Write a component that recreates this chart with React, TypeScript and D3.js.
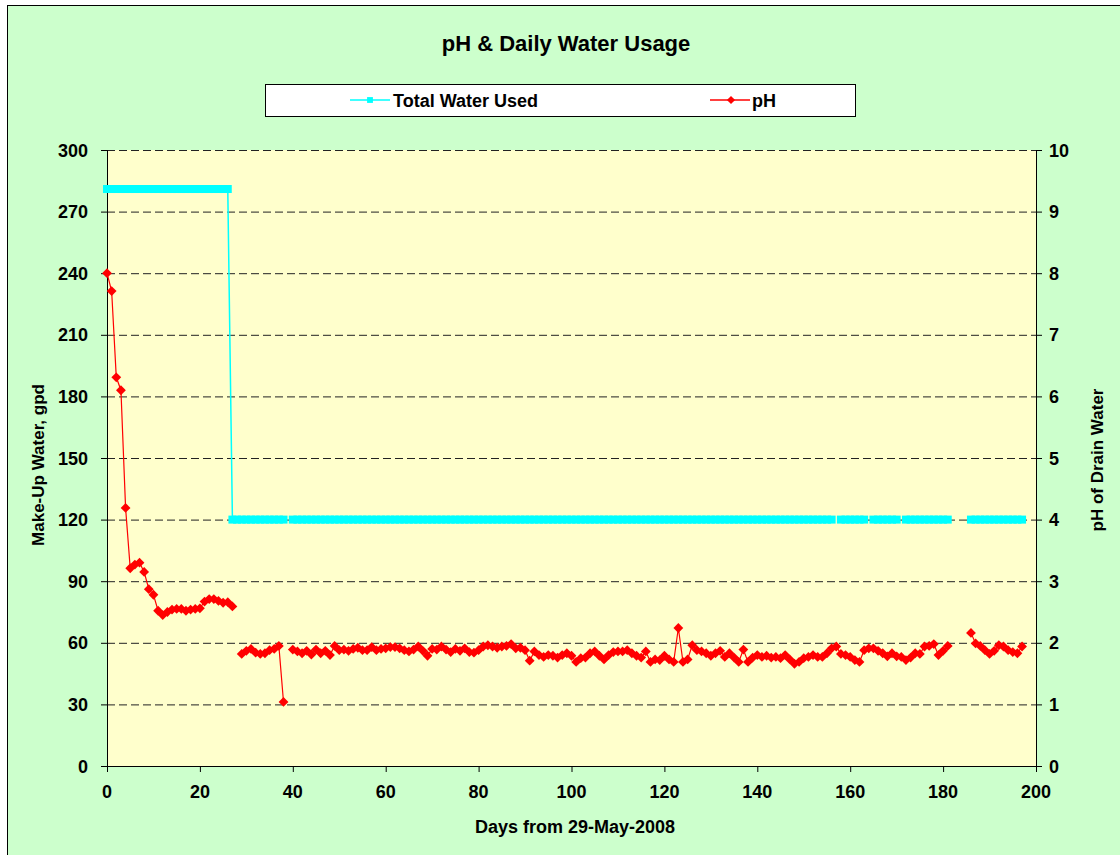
import React from 'react';
import * as d3 from 'd3';

// day index 0..197 (days from 29-May-2008)
const days: number[] = d3.range(0, 198);

// Total water used, gpd (null = no reading)
const water: (number | null)[] = [
  281, 281, 281, 281, 281, 281, 281, 281, 281, 281, 281, 281, 281, 281, 281, 281, 281, 281, 281, 281,
  281, 281, 281, 281, 281, 281, 281, 120, 120, 120, 120, 120, 120, 120, 120, 120, 120, 120, 120, null,
  120, 120, 120, 120, 120, 120, 120, 120, 120, 120, 120, 120, 120, 120, 120, 120, 120, 120, 120, 120,
  120, 120, 120, 120, 120, 120, 120, 120, 120, 120, 120, 120, 120, 120, 120, 120, 120, 120, 120, 120,
  120, 120, 120, 120, 120, 120, 120, 120, 120, 120, 120, 120, 120, 120, 120, 120, 120, 120, 120, 120,
  120, 120, 120, 120, 120, 120, 120, 120, 120, 120, 120, 120, 120, 120, 120, 120, 120, 120, 120, 120,
  120, 120, 120, 120, 120, 120, 120, 120, 120, 120, 120, 120, 120, 120, 120, 120, 120, 120, 120, 120,
  120, 120, 120, 120, 120, 120, 120, 120, 120, 120, 120, 120, 120, 120, 120, 120, 120, null, 120, 120,
  120, 120, 120, 120, null, 120, 120, 120, 120, 120, 120, null, 120, 120, 120, 120, 120, 120, 120, 120,
  120, 120, null, null, null, null, 120, 120, 120, 120, 120, 120, 120, 120, 120, 120, 120, 120,
];

// pH of drain water
const ph: (number | null)[] = [
  8.0, 7.71, 6.31, 6.1, 4.19, 3.21, 3.27, 3.3, 3.15, 2.87, 2.78, 2.52, 2.45, 2.5, 2.54, 2.55, 2.55, 2.52, 2.54, 2.55,
  2.56, 2.67, 2.71, 2.71, 2.68, 2.65, 2.66, 2.59, null, 1.82, 1.87, 1.9, 1.84, 1.82, 1.83, 1.88, 1.9, 1.95, 1.04, null,
  1.89, 1.86, 1.83, 1.87, 1.81, 1.89, 1.83, 1.87, 1.8, 1.95, 1.88, 1.89, 1.87, 1.9, 1.92, 1.88, 1.88, 1.93, 1.88, 1.9,
  1.91, 1.93, 1.93, 1.91, 1.88, 1.86, 1.89, 1.94, 1.87, 1.79, 1.9, 1.89, 1.94, 1.89, 1.85, 1.9, 1.87, 1.91, 1.85, 1.84,
  1.88, 1.94, 1.96, 1.94, 1.92, 1.94, 1.95, 1.98, 1.91, 1.92, 1.88, 1.71, 1.86, 1.8, 1.77, 1.8, 1.79, 1.76, 1.8, 1.83,
  1.79, 1.69, 1.75, 1.76, 1.83, 1.86, 1.79, 1.73, 1.8, 1.85, 1.86, 1.86, 1.88, 1.83, 1.79, 1.76, 1.86, 1.69, 1.73, 1.72,
  1.79, 1.73, 1.69, 2.24, 1.69, 1.73, 1.96, 1.88, 1.86, 1.83, 1.79, 1.83, 1.87, 1.77, 1.83, 1.76, 1.69, 1.89, 1.69, 1.76,
  1.8, 1.77, 1.79, 1.76, 1.77, 1.75, 1.8, 1.73, 1.66, 1.69, 1.75, 1.77, 1.8, 1.77, 1.77, 1.83, 1.91, 1.94, 1.82, 1.8,
  1.77, 1.72, 1.69, 1.88, 1.91, 1.91, 1.87, 1.83, 1.78, 1.83, 1.78, 1.77, 1.72, 1.76, 1.83, 1.82, 1.94, 1.95, 1.98, 1.8,
  1.87, 1.95, null, null, null, null, 2.16, 1.99, 1.95, 1.88, 1.82, 1.87, 1.96, 1.94, 1.88, 1.85, 1.83, 1.94,
];

const xTicks = [0, 20, 40, 60, 80, 100, 120, 140, 160, 180, 200];
const leftTicks = [0, 30, 60, 90, 120, 150, 180, 210, 240, 270, 300];
const rightTicks = [0, 1, 2, 3, 4, 5, 6, 7, 8, 9, 10];

const FONT = "'Liberation Sans', Arial, sans-serif";
const CYAN = '#00FFFF';
const RED = '#FF0000';

const plot = { left: 107, right: 1036, top: 150, bottom: 766 };

const x = d3.scaleLinear().domain([0, 200]).range([plot.left, plot.right]);
const yL = d3.scaleLinear().domain([0, 300]).range([plot.bottom, plot.top]);
const yR = d3.scaleLinear().domain([0, 10]).range([plot.bottom, plot.top]);

const diamond = d3.symbol().type(d3.symbolSquare).size(48)();
const legendSquare = d3.symbol().type(d3.symbolSquare).size(34)();
const legendDiamond = d3.symbol().type(d3.symbolSquare).size(34)();

export default function App() {
  const waterLine = d3
    .line<number | null>()
    .defined(v => v != null)
    .x((v, i) => x(days[i]))
    .y(v => yL(v as number));
  const phLine = d3
    .line<number | null>()
    .defined(v => v != null)
    .x((v, i) => x(days[i]))
    .y(v => yR(v as number));

  return (
    <svg
      width={1120}
      height={855}
      style={{ position: 'absolute', left: 0, top: 0 }}
      fontFamily={FONT}
      fontWeight="bold"
    >
      <rect x={0} y={0} width={1120} height={855} fill="#fff" />
      <rect x={7.5} y={5.5} width={1120} height={860} fill="#CCFFCC" stroke="#000" strokeWidth={1} />

      {/* title */}
      <text x={566} y={51} textAnchor="middle" fontSize={22}>
        pH &amp; Daily Water Usage
      </text>

      {/* legend */}
      <rect x={265.5} y={84.5} width={590} height={32} fill="#fff" stroke="#000" strokeWidth={1} />
      <line x1={350} x2={390} y1={100} y2={100} stroke={CYAN} strokeWidth={1.5} />
      <path d={legendSquare} transform="translate(370,100)" fill={CYAN} />
      <text x={393} y={106.5} fontSize={18}>Total Water Used</text>
      <line x1={710} x2={750} y1={100} y2={100} stroke={RED} strokeWidth={1.5} />
      <path d={legendDiamond} transform="translate(731,100) rotate(45)" fill={RED} />
      <text x={752} y={106.5} fontSize={18}>pH</text>

      {/* plot area */}
      <rect
        x={plot.left}
        y={plot.top}
        width={plot.right - plot.left}
        height={plot.bottom - plot.top}
        fill="#FFFFCC"
      />
      {leftTicks.filter(t => t > 0).map(t => (
        <line
          key={'g' + t}
          x1={plot.left}
          x2={plot.right}
          y1={yL(t) + 0.5}
          y2={yL(t) + 0.5}
          stroke="#222"
          strokeWidth={1}
          strokeDasharray="8,4"
        />
      ))}

      {/* axes */}
      <line x1={plot.left + 0.5} x2={plot.left + 0.5} y1={plot.top} y2={plot.bottom} stroke="#000" />
      <line x1={plot.right + 0.5} x2={plot.right + 0.5} y1={plot.top} y2={plot.bottom} stroke="#000" />
      <line x1={plot.left} x2={plot.right + 1} y1={plot.bottom + 0.5} y2={plot.bottom + 0.5} stroke="#000" />

      {leftTicks.map(t => (
        <g key={'l' + t}>
          <line x1={plot.left - 6} x2={plot.left} y1={yL(t) + 0.5} y2={yL(t) + 0.5} stroke="#000" />
          <text x={88} y={yL(t) + 6.5} textAnchor="end" fontSize={18}>
            {t}
          </text>
        </g>
      ))}
      {rightTicks.map(t => (
        <g key={'r' + t}>
          <line x1={plot.right} x2={plot.right + 6} y1={yR(t) + 0.5} y2={yR(t) + 0.5} stroke="#000" />
          <text x={1049} y={yR(t) + 6.5} textAnchor="start" fontSize={18}>
            {t}
          </text>
        </g>
      ))}
      {xTicks.map(t => (
        <g key={'x' + t}>
          <line x1={x(t) + 0.5} x2={x(t) + 0.5} y1={plot.bottom} y2={plot.bottom + 6} stroke="#000" />
          <text x={x(t)} y={798} textAnchor="middle" fontSize={18}>
            {t}
          </text>
        </g>
      ))}

      {/* axis titles */}
      <text x={575} y={833} textAnchor="middle" fontSize={18}>
        Days from 29-May-2008
      </text>
      <text transform="translate(44,465) rotate(-90)" textAnchor="middle" fontSize={17}>
        Make-Up Water, gpd
      </text>
      <text transform="translate(1103,460) rotate(-90)" textAnchor="middle" fontSize={17}>
        pH of Drain Water
      </text>

      {/* water series */}
      <path d={waterLine(water) || ''} fill="none" stroke={CYAN} strokeWidth={1.5} />
      {water.map((v, i) =>
        v == null ? null : (
          <rect key={'w' + i} x={x(days[i]) - 4} y={yL(v) - 4} width={8} height={8} fill={CYAN} />
        )
      )}

      {/* pH series */}
      <path d={phLine(ph) || ''} fill="none" stroke={RED} strokeWidth={1.2} />
      {ph.map((v, i) =>
        v == null ? null : (
          <path
            key={'p' + i}
            d={diamond}
            transform={`translate(${x(days[i])},${yR(v)}) rotate(45)`}
            fill={RED}
          />
        )
      )}
    </svg>
  );
}
